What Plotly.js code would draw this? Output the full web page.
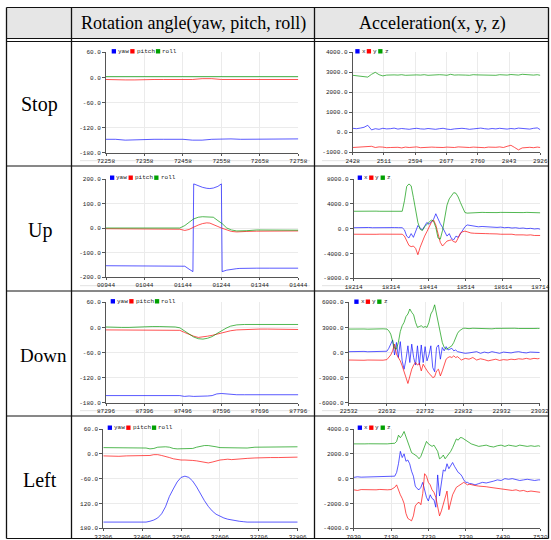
<!DOCTYPE html>
<html><head><meta charset="utf-8">
<script src="https://cdn.plot.ly/plotly-3.0.1.min.js"></script>
<style>html,body{margin:0;padding:0;background:#fff;}#chart{width:551px;height:540px;}</style>
</head><body><div id="chart"></div>
<script>
// ---------- labels ----------
const headerTexts = ['Rotation angle(yaw, pitch, roll)', 'Acceleration(x, y, z)'];
const rowLabels = ['Stop', 'Up', 'Down', 'Left'];
const rotLegend = ['yaw', 'pitch', 'roll'];
const accLegend = ['x', 'y', 'z'];

// ---------- Stop: rotation ----------
const stopRotT = [72258,72283,72308,72333,72358,72383,72408,72433,72458,72483,72508,72533,72558,72583,72608,72633,72658,72683,72708,72733,72758];
const stopRotYaw = [-148,-148,-150,-149,-148,-148,-148,-148,-148,-150,-150,-148,-147,-147,-148,-148,-148,-147,-147,-147,-147];
const stopRotPitch = [-5,-6,-6,-6,-5,-5,-5,-5,-5,-5,-3,-3,-5,-5,-5,-5,-6,-5,-5,-5,-5];
const stopRotRoll = [2,2,2,2,2,2,2,2,2.5,2,2.5,2,2,2,2,2,2.5,2,2,2,2];
const stopRotXTicks = [72258,72358,72458,72558,72658,72758];
const stopRotXLabels = ['72258','72358','72458','72558','72658','72758'];

// ---------- Stop: acceleration ----------
const stopAccT = [2428,2438,2448,2458,2468,2478,2488,2498,2508,2518,2528,2538,2548,2558,2568,2578,2588,2598,2608,2618,2628,2638,2648,2658,2668,2678,2688,2698,2708,2718,2728,2738,2748,2758,2768,2778,2788,2798,2808,2818,2828,2838,2848,2858,2868,2878,2888,2898,2908,2918,2926];
const stopAccX = [200,180,210,250,350,120,180,150,200,170,180,210,160,190,170,150,180,200,170,160,190,170,150,180,200,160,140,170,190,200,180,150,170,190,210,180,160,190,170,200,180,160,190,170,210,190,170,160,200,220,130];
const stopAccY = [-760,-750,-740,-720,-690,-700,-760,-730,-740,-770,-760,-740,-750,-780,-740,-760,-750,-730,-770,-750,-760,-740,-750,-770,-760,-740,-750,-760,-730,-750,-770,-760,-740,-750,-760,-770,-740,-760,-750,-730,-760,-700,-650,-760,-880,-780,-760,-750,-770,-740,-760];
const stopAccZ = [2850,2830,2820,2770,2760,2900,3000,2880,2820,2860,2880,2870,2860,2880,2850,2860,2890,2870,2860,2880,2850,2870,2860,2880,2870,2850,2900,2860,2870,2880,2860,2850,2880,2870,2860,2880,2870,2860,2850,2880,2870,2860,2890,2880,2860,2900,2880,2870,2860,2880,2850];
const stopAccXTicks = [2428,2511,2594,2677,2760,2843,2926];
const stopAccXLabels = ['2428','2511','2594','2677','2760','2843','2926'];

// ---------- Up: rotation ----------
const upRotT = [944,970,1000,1030,1060,1090,1120,1136,1149,1160,1170,1172,1184,1195,1206,1214,1223,1235,1244,1246,1258,1270,1284,1292,1310,1336,1370,1400,1444];
const upRotYaw = [-154,-154,-154,-154,-154,-154,-154,-154,-156,-168,-178,180,172,166,162,161,163,170,180,-178,-172,-168,-166,-165,-164,-164,-164,-164,-164];
const upRotPitch = [-3,-3,-3,-3,-3,-3,-3,-5,-10,-6,2,3,12,18,21,20,15,6,0,-1,-8,-14,-16,-15,-14,-13,-12,-12,-12];
const upRotRoll = [0,0,0,0,0,0,0,0,10,25,35,37,44,46,46,46,44,30,20,18,0,-8,-12,-12,-11,-8,-8,-8,-9];
const upRotXTicks = [944,1044,1144,1244,1344,1444];
const upRotXLabels = ['00944','01044','01144','01244','01344','01444'];

// ---------- Up: acceleration ----------
const upAccT = [18214,18224,18234,18244,18254,18264,18274,18284,18294,18304,18314,18324,18334,
  18344,18350,18356,18362,18368,18374,18380,18386,18392,18398,18404,18410,18416,18422,18428,18434,18440,18446,18452,18458,18464,18470,18476,18482,18488,18494,18500,18506,18512,18518,
  18528,18538,18548,18558,18568,18578,18588,18598,18608,18618,18628,18638,18648,18658,18668,18678,18688,18698,18708,18714];
const upAccX = [150,180,160,170,190,150,170,160,180,170,150,170,160,
  150,-200,-1200,-1500,-800,-1400,-400,500,100,-200,400,1000,700,1200,1500,2400,1500,800,200,-600,-1200,-800,-1600,-1800,-1200,-1400,-800,-200,300,600,
  500,400,300,350,300,250,300,200,250,150,200,100,150,50,100,0,50,-50,0,-100];
const upAccY = [-900,-920,-880,-900,-930,-900,-910,-890,-900,-920,-880,-900,-900,
  -900,-1200,-2000,-2700,-2900,-2800,-3200,-4200,-3000,-2000,-1200,-500,300,1000,1400,600,-800,-2200,-2800,-2400,-2000,-1900,-1800,-2100,-2200,-1500,-700,-500,-400,-500,
  -700,-750,-800,-780,-800,-820,-800,-850,-900,-880,-950,-900,-1000,-950,-1000,-1050,-1000,-1100,-1050,-1100];
const upAccZ = [2800,2820,2780,2810,2800,2790,2820,2800,2810,2790,2800,2820,2810,
  2800,4500,6800,7200,6900,5000,2800,1000,-100,-300,300,700,1000,1400,1200,200,-1500,-1700,-300,1800,3800,4800,5400,5800,5700,5100,4200,3300,2600,2500,
  2550,2600,2580,2620,2600,2570,2610,2590,2620,2600,2580,2610,2600,2570,2590,2620,2600,2580,2600,2550];
const upAccXTicks = [18214,18314,18414,18514,18614,18714];
const upAccXLabels = ['18214','18314','18414','18514','18614','18714'];

// ---------- Down: rotation ----------
const downRotT = [87296,87316,87336,87356,87376,87396,87416,87436,87456,87476,87488,87500,87512,87524,87536,87548,87560,87572,87584,87596,87608,87620,87636,87656,87676,87696,87716,87736,87756,87776,87796];
const downRotYaw = [-163,-163,-163,-163,-162,-162,-162,-162,-162,-162,-163,-165,-164,-165,-165,-165,-164,-163,-159,-158,-159,-161,-161,-161,-161,-161,-161,-161,-161,-161,-161];
const downRotPitch = [-6,-6,-7,-7,-6,-6,-6,-6,-6,-6,-7,-12,-17,-21,-24,-23,-21,-19,-16,-13,-11,-8,-6,-5,-4,-4,-4,-4,-4,-4,-5];
const downRotRoll = [1,0,0,0,1,2,2,2,2,1,-1,-8,-16,-23,-27,-28,-26,-22,-15,-8,-2,3,6,7,7,7,7,7,7,7,7];
const downRotXTicks = [87296,87396,87496,87596,87696,87796];
const downRotXLabels = ['87296','87396','87496','87596','87696','87796'];

// ---------- Down: acceleration ----------
const downAccT = [22532,22542,22552,22562,22572,22582,22592,22602,22612,22622,22632,
  22637,22642,22647,22652,22657,22662,22667,22672,22677,22682,22687,22692,22697,22702,22707,22712,22717,22722,22727,22732,22737,22742,22747,22752,22757,22762,22767,22772,22777,22782,22787,22792,22797,22802,22807,22812,22817,22822,22827,22832,22837,
  22847,22857,22867,22877,22887,22897,22907,22917,22927,22937,22947,22957,22967,22977,22987,22997,23007,23017,23027,23032];
const downAccX = [100,120,80,100,130,90,110,100,80,120,150,
  500,1000,1500,-300,1200,-600,1300,-1000,-2000,-800,800,-1200,1000,-600,-1500,800,-1500,900,-1200,700,-1000,-300,800,-1800,-2300,600,900,-800,600,200,700,300,400,500,200,300,100,50,0,-50,-100,
  -50,0,100,-100,50,-50,100,0,-100,50,0,-50,50,100,0,-50,50,0,20,0];
const downAccY = [-900,-920,-880,-900,-930,-900,-910,-880,-900,-920,-850,
  -600,-300,200,1000,-200,-600,-1000,-1600,-2200,-3000,-3700,-2800,-2000,-1500,-1200,-1500,-1300,-2200,-1400,-1800,-2200,-2500,-2700,-3000,-2900,-2200,-2000,-2800,-2200,-1500,-800,-600,-500,-600,-400,-600,-500,-700,-900,-800,-700,
  -800,-600,-900,-750,-850,-1000,-900,-800,-950,-850,-900,-800,-850,-750,-800,-700,-800,-700,-750,-700];
const downAccZ = [2800,2820,2780,2800,2810,2790,2820,2800,2810,2830,2800,
  2600,2200,1200,500,400,1200,2500,3200,3600,4300,4600,5200,4800,4500,3600,3000,3100,3200,3000,3100,3000,3600,4600,5000,5700,4500,3200,2000,1200,600,400,500,700,800,1200,1800,2300,2600,2800,2900,2900,
  2850,2900,2880,2850,2900,2870,2830,2880,2900,2860,2850,2880,2900,2870,2850,2880,2860,2870,2880,2870];
const downAccXTicks = [22532,22632,22732,22832,22932,23032];
const downAccXLabels = ['22532','22632','22732','22832','22932','23032'];

// ---------- Left: rotation ----------
const leftRotT = [32306,32326,32346,32366,32386,32406,32416,32426,32436,32446,32456,32466,32476,32486,32496,32506,32516,32526,32536,32546,32556,32566,32576,32586,32596,32606,32616,32626,32636,32646,32656,32666,32676,32696,32716,32736,32756,32776,32806];
const leftRotYaw = [-165,-165,-165,-165,-165,-165,-165,-163,-160,-155,-145,-128,-103,-85,-68,-57,-54,-57,-66,-80,-97,-113,-127,-138,-146,-151,-155,-158,-160,-162,-163,-164,-165,-165,-165,-165,-165,-165,-165];
const leftRotPitch = [-5,-6,-6,-5,-5,-5,-5,-4,-2,-2,-4,-6,-9,-12,-14,-15,-15,-15,-16,-17,-19,-21,-22,-20,-17,-15,-14,-13,-14,-13,-12,-12,-11,-10,-9,-9,-9,-8,-8];
const leftRotRoll = [15,15,15,15,15,15,14,12,13,16,17,17,16,13,12,12,12,12,13,16,18,20,20,19,17,15,15,14,14,14,14,14,14,16,16,16,16,17,17];
const leftRotXTicks = [32306,32406,32506,32606,32706,32806];
const leftRotXLabels = ['32306','32406','32506','32606','32706','32806'];

// ---------- Left: acceleration ----------
const leftAccT = [7030,7040,7050,7060,7070,7080,7090,7100,7110,7120,7130,7140,
  7145,7150,7155,7160,7165,7170,7175,7180,7185,7190,7195,7200,7205,7210,7215,7220,7225,7230,7235,7240,7245,7250,7255,7260,7265,7270,7275,7280,7285,7290,7295,7300,7305,7310,7315,7320,7325,7330,7335,7340,7345,
  7355,7365,7375,7385,7395,7405,7415,7425,7435,7445,7455,7465,7475,7485,7495,7505,7515,7525,7530];
const leftAccX = [100,150,120,130,150,140,160,150,170,160,150,200,
  500,1200,2200,1700,2000,1400,1500,1200,600,200,-600,-800,-900,-700,-300,-1000,-1500,-1800,-1300,-1600,-1700,-2300,300,-1400,-500,700,600,1200,800,1000,1300,1000,700,500,400,200,-100,-300,-300,-400,-400,
  -500,-400,-300,-350,-300,-200,-100,-150,0,-50,0,-100,-150,-100,-50,-100,-150,-100,-100];
const leftAccY = [-900,-950,-880,-900,-920,-890,-900,-870,-910,-900,-880,-700,
  -500,-1000,-1300,-1600,-2000,-2800,-3200,-3300,-3400,-3000,-2200,-2000,-1900,-2100,-1200,400,200,-300,-500,-900,-1100,-1500,-2400,-3000,-2600,-2000,-1400,-1000,-2500,-1800,-1300,-1000,-700,-600,-500,-400,-300,-400,-500,-450,-500,
  -550,-600,-600,-650,-700,-750,-800,-850,-850,-900,-950,-900,-1000,-950,-1050,-1000,-1050,-1100,-1100];
const leftAccZ = [2800,2820,2790,2800,2810,2800,2790,2820,2810,2800,2830,2850,
  3000,3500,3300,3500,3800,3400,2900,2600,2100,2000,1900,1800,1600,1800,2200,2600,3000,2800,2700,2600,2700,2500,2200,1600,1700,1900,1600,1800,2000,2200,2500,2800,3200,3100,3300,3300,3200,3100,3000,2900,2800,
  2700,2600,2650,2700,2600,2550,2650,2700,2600,2700,2650,2600,2700,2650,2600,2650,2600,2650,2600];
const leftAccXTicks = [7030,7130,7230,7330,7430,7530];
const leftAccXLabels = ['7030','7130','7230','7330','7430','7530'];

// ---------- y tick sets ----------
const rotYTicks = [-180,-120,-60,0,60];
const rotYLabels = ['-180.0','-120.0','-60.0','0.0','60.0'];
const leftRotYLabels = ['180.0','120.0','-60.0','0.0','60.0'];
const stopAccYTicks = [-1000,0,1000,2000,3000,4000];
const stopAccYLabels = ['-1000.0','0.0','1000.0','2000.0','3000.0','4000.0'];
const upRotYTicks = [-200,-100,0,100,200];
const upRotYLabels = ['-200.0','-100.0','0.0','100.0','200.0'];
const upAccYTicks = [-8000,-4000,0,4000,8000];
const upAccYLabels = ['-8000.0','-4000.0','0.0','4000.0','8000.0'];
const downAccYTicks = [-6000,-3000,0,3000,6000];
const downAccYLabels = ['-6000.0','-3000.0','0.0','3000.0','6000.0'];
const leftAccYTicks = [-4000,-2000,0,2000,4000];
const leftAccYLabels = ['-4000.0','-2000.0','0.0','2000.0','4000.0'];

// ---------- layout helpers ----------
const W = 551, H = 540;
const PX = x => x / W, PY = y => 1 - y / H;
const lineColors = ['rgba(20,20,255,0.7)', 'rgba(255,10,10,0.7)', 'rgba(0,150,0,0.68)'];
const legColors = ['#0000ff', '#ff0000', '#00a000'];

const charts = [
  {t: stopRotT, s: [stopRotYaw, stopRotPitch, stopRotRoll], leg: rotLegend, box: [106, 298.3, 52.3, 152.7], xt: stopRotXTicks, xl: stopRotXLabels, yt: rotYTicks, yl: rotYLabels, lp: [111.7, 51.3]},
  {t: stopAccT, s: [stopAccX, stopAccY, stopAccZ], leg: accLegend, box: [352.7, 540.3, 52.3, 152.3], xt: stopAccXTicks, xl: stopAccXLabels, yt: stopAccYTicks, yl: stopAccYLabels, lp: [355.3, 51.3]},
  {t: upRotT, s: [upRotYaw, upRotPitch, upRotRoll], leg: rotLegend, box: [106, 298.3, 179, 277], xt: upRotXTicks, xl: upRotXLabels, yt: upRotYTicks, yl: upRotYLabels, lp: [110, 177.7]},
  {t: upAccT, s: [upAccX, upAccY, upAccZ], leg: accLegend, box: [353.7, 540.3, 179, 278.3], xt: upAccXTicks, xl: upAccXLabels, yt: upAccYTicks, yl: upAccYLabels, lp: [357.7, 177.7]},
  {t: downRotT, s: [downRotYaw, downRotPitch, downRotRoll], leg: rotLegend, box: [106, 298.3, 302.3, 402.7], xt: downRotXTicks, xl: downRotXLabels, yt: rotYTicks, yl: rotYLabels, lp: [110.7, 301.3]},
  {t: downAccT, s: [downAccX, downAccY, downAccZ], leg: accLegend, box: [348.7, 539.7, 302.3, 402.7], xt: downAccXTicks, xl: downAccXLabels, yt: downAccYTicks, yl: downAccYLabels, lp: [354.3, 301.7]},
  {t: leftRotT, s: [leftRotYaw, leftRotPitch, leftRotRoll], leg: rotLegend, box: [103.3, 297.7, 429, 528.3], xt: leftRotXTicks, xl: leftRotXLabels, yt: rotYTicks, yl: leftRotYLabels, lp: [107.7, 427.7]},
  {t: leftAccT, s: [leftAccX, leftAccY, leftAccZ], leg: accLegend, box: [353.7, 540.3, 429, 528.3], xt: leftAccXTicks, xl: leftAccXLabels, yt: leftAccYTicks, yl: leftAccYLabels, lp: [357.7, 427.7]}
];

const monoFam = 'Liberation Mono, DejaVu Sans Mono, monospace';
const tickFont = {family: monoFam, size: 6, color: '#222'};
const data = [];
const layout = {
  width: W, height: H, margin: {l: 0, r: 0, t: 0, b: 0},
  paper_bgcolor: '#ffffff', plot_bgcolor: '#ffffff', showlegend: false,
  shapes: [], annotations: []
};

// faint bottom edge of each chart image (rows 1-3), drawn first so everything sits above
[[80, 310, 160.7], [322, 546, 160.7], [80, 310, 285.7], [322, 546, 285.7], [80, 310, 410.7], [322, 546, 410.7]].forEach(b => {
  layout.shapes.push({type: 'line', xref: 'paper', yref: 'paper', x0: PX(b[0]), x1: PX(b[1]), y0: PY(b[2]), y1: PY(b[2]), line: {color: '#e2e2e2', width: 1}, layer: 'below'});
});

charts.forEach((c, i) => {
  const n = i === 0 ? '' : String(i + 1);
  const xr = 'x' + n, yr = 'y' + n;
  c.s.forEach((series, j) => {
    data.push({type: 'scatter', mode: 'lines', x: c.t, y: series, xaxis: xr, yaxis: yr,
      line: {color: lineColors[j], width: 1}, hoverinfo: 'skip', showlegend: false});
  });
  const [x0, x1, y0, y1] = c.box;
  const common = {showgrid: true, gridcolor: '#ebebeb', gridwidth: 1, showline: true, linecolor: '#555',
    linewidth: 1, ticks: 'outside', tickcolor: '#555', tickwidth: 1, zeroline: false, tickfont: tickFont,
    fixedrange: true, tickmode: 'array'};
  layout['xaxis' + n] = Object.assign({}, common, {domain: [PX(x0), PX(x1)], anchor: yr,
    range: [c.xt[0], c.xt[c.xt.length - 1]], tickvals: c.xt, ticktext: c.xl, ticklen: 2});
  layout['yaxis' + n] = Object.assign({}, common, {domain: [PY(y1), PY(y0)], anchor: xr,
    range: [c.yt[0], c.yt[c.yt.length - 1]], tickvals: c.yt, ticktext: c.yl, ticklen: 3});
  // legend (squares + labels)
  let lx = c.lp[0];
  const cy = c.lp[1];
  c.leg.forEach((txt, j) => {
    layout.shapes.push({type: 'rect', xref: 'paper', yref: 'paper', x0: PX(lx), x1: PX(lx + 4.3),
      y0: PY(cy + 2.2), y1: PY(cy - 2.2), fillcolor: legColors[j], line: {width: 0}});
    layout.annotations.push({xref: 'paper', yref: 'paper', x: PX(lx + 5.3), y: PY(cy), xanchor: 'left',
      yanchor: 'middle', text: txt, showarrow: false, borderpad: 0,
      font: {family: monoFam, size: 6, color: '#222'}});
    lx = lx + 5.3 + txt.length * 3.55 + 2.6;
  });
});

// ---------- table ----------
const tableL = 6.5, tableR = 548.5, tableT = 7.5, tableB = 538.5;
const colX = [71.5, 314.5];
const rowY = [166, 291, 416];
layout.shapes.unshift({type: 'rect', xref: 'paper', yref: 'paper', x0: PX(tableL), x1: PX(tableR),
  y0: PY(38.5), y1: PY(tableT), fillcolor: '#e6e6e6', line: {width: 0}, layer: 'below'});
function hline(y, w) {
  layout.shapes.push({type: 'line', xref: 'paper', yref: 'paper', x0: PX(tableL), x1: PX(tableR), y0: PY(y), y1: PY(y), line: {color: '#111', width: w || 1}});
}
function vline(x, w) {
  layout.shapes.push({type: 'line', xref: 'paper', yref: 'paper', x0: PX(x), x1: PX(x), y0: PY(tableT), y1: PY(tableB), line: {color: '#111', width: w || 1}});
}
hline(tableT); hline(38.5); hline(41.5); rowY.forEach(y => hline(y)); hline(tableB);
vline(tableL, 1.3); colX.forEach(x => vline(x, 1.3)); vline(tableR, 1.3);

const serif = 'Liberation Serif, Times New Roman, serif';
layout.annotations.push({xref: 'paper', yref: 'paper', x: PX(193), y: PY(24), text: headerTexts[0], showarrow: false, xanchor: 'center', yanchor: 'middle', font: {family: serif, size: 18, color: '#000'}});
layout.annotations.push({xref: 'paper', yref: 'paper', x: PX(432), y: PY(24), text: headerTexts[1], showarrow: false, xanchor: 'center', yanchor: 'middle', font: {family: serif, size: 18, color: '#000'}});
const rowLabelPos = [[39, 104, 20], [39.5, 230, 20], [43.5, 355, 19], [40, 480, 20]];
rowLabels.forEach((t, i) => {
  layout.annotations.push({xref: 'paper', yref: 'paper', x: PX(rowLabelPos[i][0]), y: PY(rowLabelPos[i][1]), text: t, showarrow: false, xanchor: 'center', yanchor: 'middle', font: {family: serif, size: rowLabelPos[i][2], color: '#000'}});
});

Plotly.newPlot('chart', data, layout, {displayModeBar: false, staticPlot: true});
</script></body></html>
